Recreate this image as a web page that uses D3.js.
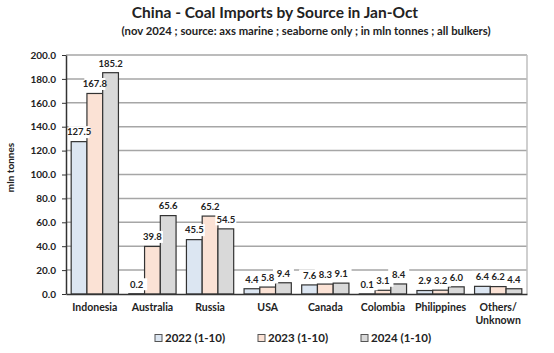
<!DOCTYPE html>
<html>
<head>
<meta charset="utf-8">
<script src="https://cdn.jsdelivr.net/npm/d3@7"></script>
<style>
  body { margin: 0; background: #fff; }
  text { font-family: Lato, "Open Sans", sans-serif; font-weight: bold; fill: #222; }
</style>
</head>
<body>
<svg id="chart" width="554" height="353"></svg>
<script>
const categories = ["Indonesia", "Australia", "Russia", "USA", "Canada", "Colombia", "Philippines", "Others/\nUnknown"];
const seriesNames = ["2022 (1-10)", "2023 (1-10)", "2024 (1-10)"];
const v2022 = [127.5, 0.2, 45.5, 4.4, 7.6, 0.1, 2.9, 6.4];
const v2023 = [167.8, 39.8, 65.2, 5.8, 8.3, 3.1, 3.2, 6.2];
const v2024 = [185.2, 65.6, 54.5, 9.4, 9.1, 8.4, 6.0, 4.4];
const yTicks = [0, 20, 40, 60, 80, 100, 120, 140, 160, 180, 200];
const colors = ["#dce6f2", "#fbe2d5", "#d9d9d9"];

const series = [v2022, v2023, v2024];
const width = 554, height = 353;
const margin = { top: 55, right: 27, bottom: 59, left: 66 };

const svg = d3.select("#chart");

const x = d3.scaleBand()
  .domain(categories)
  .range([margin.left, width - margin.right])
  .paddingInner(0.18)
  .paddingOuter(0.09);

const xs = d3.scaleBand()
  .domain(seriesNames)
  .range([0, x.bandwidth()]);

const y = d3.scaleLinear()
  .domain([0, 200])
  .range([height - margin.bottom, margin.top]);

// flat list of bar data
const barData = [];
categories.forEach((c, i) => {
  series.forEach((s, k) => barData.push({ cat: c, key: seriesNames[k], value: s[i], k }));
});
const cx = d => x(d.cat) + xs(d.key) + xs.bandwidth() / 2;

// gridlines
svg.append("g")
  .selectAll("line")
  .data(yTicks.slice(1))
  .enter().append("line")
  .attr("x1", margin.left)
  .attr("x2", width - margin.right)
  .attr("y1", d => y(d))
  .attr("y2", d => y(d))
  .attr("stroke", "#a6a6a6")
  .attr("stroke-width", 1.5);

// right border
svg.append("line")
  .attr("x1", width - margin.right).attr("x2", width - margin.right)
  .attr("y1", y(200)).attr("y2", y(0))
  .attr("stroke", "#bfbfbf").attr("stroke-width", 1.5);

// bars
svg.append("g")
  .selectAll("rect")
  .data(barData)
  .enter().append("rect")
  .attr("x", d => x(d.cat) + xs(d.key))
  .attr("y", d => y(d.value))
  .attr("width", xs.bandwidth())
  .attr("height", d => y(0) - y(d.value))
  .attr("fill", d => colors[d.k])
  .attr("stroke", "#333")
  .attr("stroke-width", 1.2);

// value label white boxes, then texts on top
svg.append("g")
  .selectAll("rect")
  .data(barData)
  .enter().append("rect")
  .attr("x", d => cx(d) - 10.5)
  .attr("y", d => y(d.value) - 15.5)
  .attr("width", 21).attr("height", 12)
  .attr("fill", "#fff");

svg.append("g")
  .selectAll("text")
  .data(barData)
  .enter().append("text")
  .attr("x", cx)
  .attr("y", d => y(d.value) - 9.5)
  .attr("text-anchor", "middle")
  .attr("dy", "0.35em")
  .style("font-size", "9.5px")
  .text(d => d.value.toFixed(1));

// y axis
const yAxis = svg.append("g")
  .attr("transform", `translate(${margin.left},0)`)
  .call(d3.axisLeft(y).tickValues(yTicks).tickFormat(d3.format(".1f")).tickSize(4).tickSizeOuter(0));
yAxis.select(".domain").attr("stroke", "#333").attr("stroke-width", 1.5);
yAxis.selectAll(".tick line").attr("stroke", "#333");
yAxis.selectAll("text").style("font-size", "10px").attr("x", -10);

// x axis
const xAxis = svg.append("g")
  .attr("transform", `translate(0,${y(0)})`)
  .call(d3.axisBottom(x).tickSize(0).tickSizeOuter(0).tickFormat(""));
xAxis.select(".domain").attr("stroke", "#333").attr("stroke-width", 1.5);

xAxis.selectAll(".tick").each(function (d) {
  const t = d3.select(this).append("text")
    .attr("text-anchor", "middle")
    .style("font-size", "10.5px")
    .attr("y", 16.5);
  d.split("\n").forEach((line, i) => {
    t.append("tspan").attr("x", 0).attr("dy", i === 0 ? 0 : 13.5).text(line);
  });
});

// y axis title
svg.append("text")
  .attr("transform", `translate(14,${(y(0) + y(200)) / 2 - 7}) rotate(-90)`)
  .attr("text-anchor", "middle")
  .style("font-size", "10px")
  .text("mln tonnes");

// titles
svg.append("text")
  .attr("x", 275).attr("y", 18)
  .attr("text-anchor", "middle")
  .style("font-size", "15.5px")
  .text("China - Coal Imports by Source in Jan-Oct");

svg.append("text")
  .attr("x", 306).attr("y", 35)
  .attr("text-anchor", "middle")
  .style("font-size", "11.3px")
  .text("(nov 2024 ; source: axs marine ; seaborne only ; in mln tonnes ; all bulkers)");

// legend
const legendX = [155, 258, 361];
const legend = svg.append("g")
  .selectAll("g")
  .data(seriesNames)
  .enter().append("g")
  .attr("transform", (d, i) => `translate(${legendX[i]},338)`);

legend.append("rect")
  .attr("x", 0).attr("y", -3.5)
  .attr("width", 7).attr("height", 7)
  .attr("fill", (d, i) => colors[i])
  .attr("stroke", "#555");

legend.append("text")
  .attr("x", 10).attr("dy", "0.35em")
  .style("font-size", "11.5px")
  .text(d => d);
</script>
</body>
</html>
